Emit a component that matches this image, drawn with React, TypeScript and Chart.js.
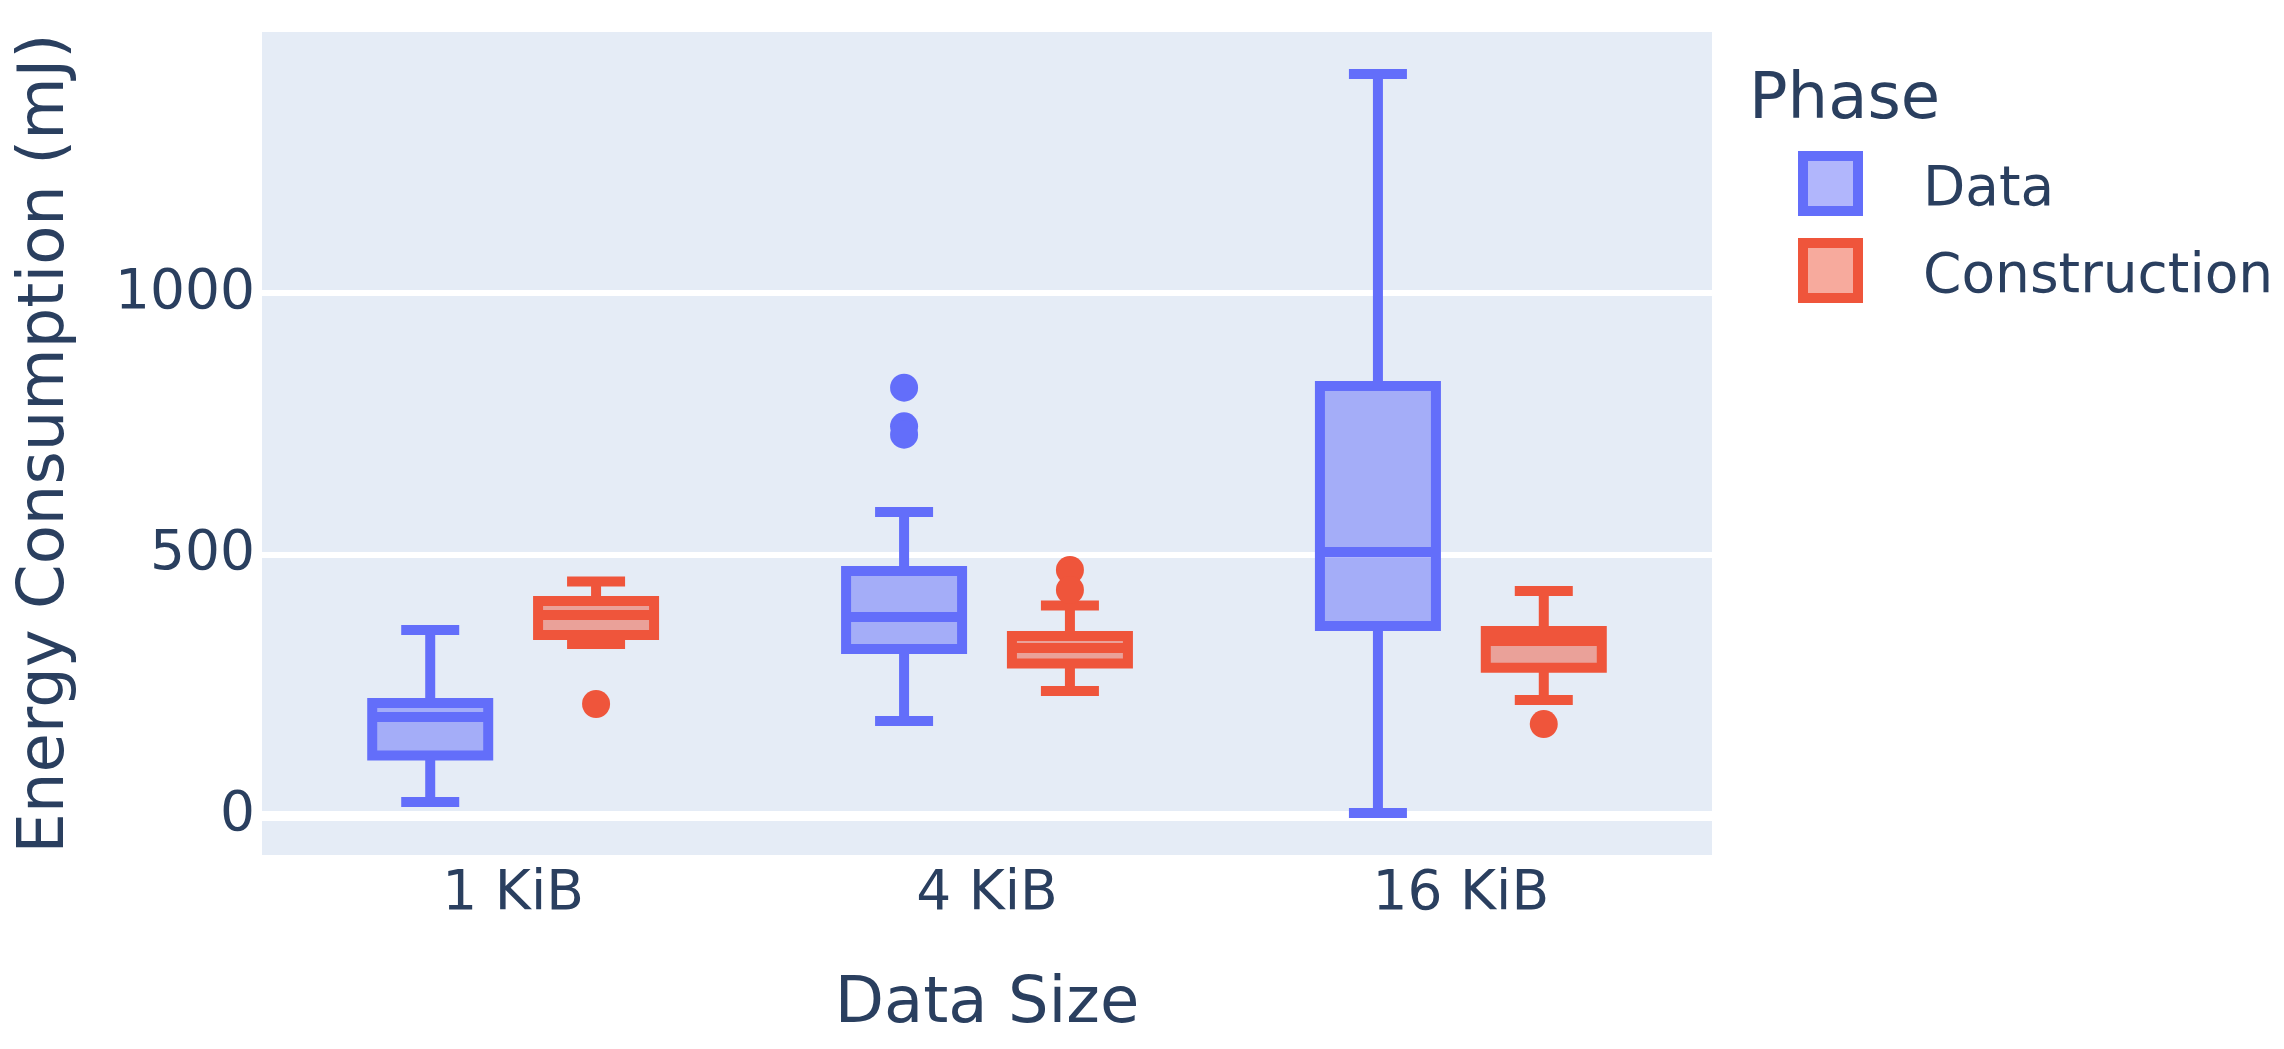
import React, { useEffect, useRef } from 'react';
import { Chart, registerables } from 'chart.js';

Chart.register(...registerables);

// ---- data ----
const categories = ['1 KiB', '4 KiB', '16 KiB'];
const seriesNames = ['Data', 'Construction'];

const dataLower = [26.8, 181.8, 5.7];
const dataQ1 = [115.8, 319.6, 363.6];
const dataMedian = [189.4, 380.8, 505.2];
const dataQ3 = [216.2, 468.8, 822.8];
const dataUpper = [355.9, 581.7, 1419.8];
const dataOutliers = [[], [819.6, 745.7, 729.7], []];

const consLower = [329.0, 239.2, 222.0];
const consQ1 = [346.3, 291.8, 283.8];
const consMedian = [384.6, 321.5, 334.9];
const consQ3 = [411.4, 344.4, 354.0];
const consUpper = [448.6, 402.8, 430.5];
const consOutliers = [[214.3], [470.7, 432.5], [176.0]];

const yTicks = [0, 500, 1000];

// ---- style ----
const FONT = "'DejaVu Sans'";
const TEXT = '#2a3f5f';
const BG = '#E5ECF6';
const COLORS = ['#636EFA', '#EF553B'];
const FILLS = ['rgba(99,110,250,0.5)', 'rgba(239,85,59,0.5)'];
const OFFSETS = [-0.175, 0.175];
const BOX_HALF = 0.1224;
const WHISKER_RATIO = 0.5;
const LINE_W = 10;

const series = [
  { lower: dataLower, q1: dataQ1, med: dataMedian, q3: dataQ3, upper: dataUpper, out: dataOutliers },
  { lower: consLower, q1: consQ1, med: consMedian, q3: consQ3, upper: consUpper, out: consOutliers },
];

const boxPlugin = {
  id: 'boxPlugin',
  beforeDraw(chart: any) {
    const { ctx, chartArea } = chart;
    ctx.save();
    ctx.fillStyle = BG;
    ctx.fillRect(chartArea.left, chartArea.top, chartArea.right - chartArea.left, chartArea.bottom - chartArea.top);
    ctx.restore();
  },
  beforeDatasetsDraw(chart: any) {
    const { ctx, chartArea } = chart;
    const x = chart.scales.x;
    const y = chart.scales.y;
    ctx.save();
    ctx.beginPath();
    ctx.rect(chartArea.left, chartArea.top, chartArea.right - chartArea.left, chartArea.bottom - chartArea.top);
    ctx.clip();
    series.forEach((s, si) => {
      categories.forEach((_, ci) => {
        const xc = x.getPixelForValue(ci + OFFSETS[si]);
        const hw = x.getPixelForValue(ci + OFFSETS[si] + BOX_HALF) - xc;
        const cw = hw * WHISKER_RATIO;
        const yLo = y.getPixelForValue(s.lower[ci]);
        const yQ1 = y.getPixelForValue(s.q1[ci]);
        const yMed = y.getPixelForValue(s.med[ci]);
        const yQ3 = y.getPixelForValue(s.q3[ci]);
        const yUp = y.getPixelForValue(s.upper[ci]);
        ctx.fillStyle = FILLS[si];
        ctx.fillRect(xc - hw, yQ3, 2 * hw, yQ1 - yQ3);
        ctx.beginPath();
        ctx.rect(xc - hw, yQ3, 2 * hw, yQ1 - yQ3);
        ctx.moveTo(xc - hw, yMed);
        ctx.lineTo(xc + hw, yMed);
        ctx.moveTo(xc, yQ3);
        ctx.lineTo(xc, yUp);
        ctx.moveTo(xc, yQ1);
        ctx.lineTo(xc, yLo);
        ctx.moveTo(xc - cw, yUp);
        ctx.lineTo(xc + cw, yUp);
        ctx.moveTo(xc - cw, yLo);
        ctx.lineTo(xc + cw, yLo);
        ctx.lineWidth = LINE_W;
        ctx.strokeStyle = COLORS[si];
        ctx.lineJoin = 'miter';
        ctx.lineCap = 'butt';
        ctx.stroke();
      });
    });
    ctx.restore();
  },
};

export default function App() {
  const canvasRef = useRef<HTMLCanvasElement | null>(null);

  useEffect(() => {
    document.body.style.margin = '0';
    document.body.style.overflow = 'hidden';
    const canvas = canvasRef.current;
    if (!canvas) return;

    const datasets = series.map((s, si) => ({
      type: 'scatter' as const,
      label: seriesNames[si],
      data: s.out.flatMap((vals, ci) => vals.map((v) => ({ x: ci + OFFSETS[si], y: v }))),
      backgroundColor: COLORS[si],
      borderColor: COLORS[si],
      borderWidth: 0,
      pointRadius: 14,
      pointHoverRadius: 14,
    }));

    const chart = new Chart(canvas, {
      type: 'scatter',
      data: { datasets },
      plugins: [boxPlugin],
      options: {
        responsive: false,
        animation: false,
        devicePixelRatio: 1,
        layout: { padding: { top: 32, right: 572, bottom: 0, left: 0 } },
        plugins: {
          legend: { display: false },
          tooltip: { enabled: false },
        },
        scales: {
          x: {
            type: 'linear',
            min: -0.53,
            max: 2.53,
            afterBuildTicks: (scale: any) => {
              scale.ticks = categories.map((_, i) => ({ value: i }));
            },
            afterFit: (scale: any) => {
              scale.height = 194;
              scale.paddingLeft = 0;
              scale.paddingRight = 0;
            },
            ticks: {
              callback: (v: any) => categories[Math.round(Number(v))],
              font: { family: FONT, size: 55 },
              color: TEXT,
              padding: 7,
              maxRotation: 0,
              autoSkip: false,
            },
            grid: { display: false, drawTicks: false },
            border: { display: false },
            title: {
              display: true,
              text: 'Data Size',
              font: { family: FONT, size: 64 },
              color: TEXT,
              padding: { top: 0, bottom: 5 },
            },
          },
          y: {
            type: 'linear',
            min: -74.6,
            max: 1500.2,
            afterBuildTicks: (scale: any) => {
              scale.ticks = yTicks.map((v) => ({ value: v }));
            },
            afterFit: (scale: any) => {
              scale.width = 262;
              scale.paddingTop = 0;
              scale.paddingBottom = 0;
            },
            ticks: {
              font: { family: FONT, size: 55 },
              color: TEXT,
              padding: 7,
              callback: (v: any) => String(v),
            },
            grid: {
              color: '#ffffff',
              lineWidth: (ctx: any) => (ctx.tick && ctx.tick.value === 0 ? 10 : 6),
              drawTicks: false,
            },
            border: { display: false },
            title: {
              display: true,
              text: 'Energy Consumption (mJ)',
              font: { family: FONT, size: 64 },
              color: TEXT,
              padding: { top: 8, bottom: 0 },
            },
          },
        },
      },
    } as any);

    return () => {
      chart.destroy();
    };
  }, []);

  const legendText: React.CSSProperties = {
    position: 'absolute',
    fontFamily: FONT,
    color: TEXT,
    lineHeight: 1,
    whiteSpace: 'nowrap',
  };

  return (
    <div style={{ position: 'relative', width: 2284, height: 1049, background: '#fff', overflow: 'hidden' }}>
      <canvas ref={canvasRef} width={2284} height={1049} style={{ display: 'block' }} />
      <div style={{ ...legendText, left: 1749, top: 63.5, fontSize: 64 }}>Phase</div>
      {seriesNames.map((name, i) => (
        <React.Fragment key={name}>
          <div
            style={{
              position: 'absolute',
              left: 1798,
              top: 151 + i * 87,
              width: 65,
              height: 65,
              boxSizing: 'border-box',
              border: `10px solid ${COLORS[i]}`,
              background: FILLS[i],
            }}
          />
          <div style={{ ...legendText, left: 1923, top: 158.5 + i * 87, fontSize: 55 }}>{name}</div>
        </React.Fragment>
      ))}
    </div>
  );
}
